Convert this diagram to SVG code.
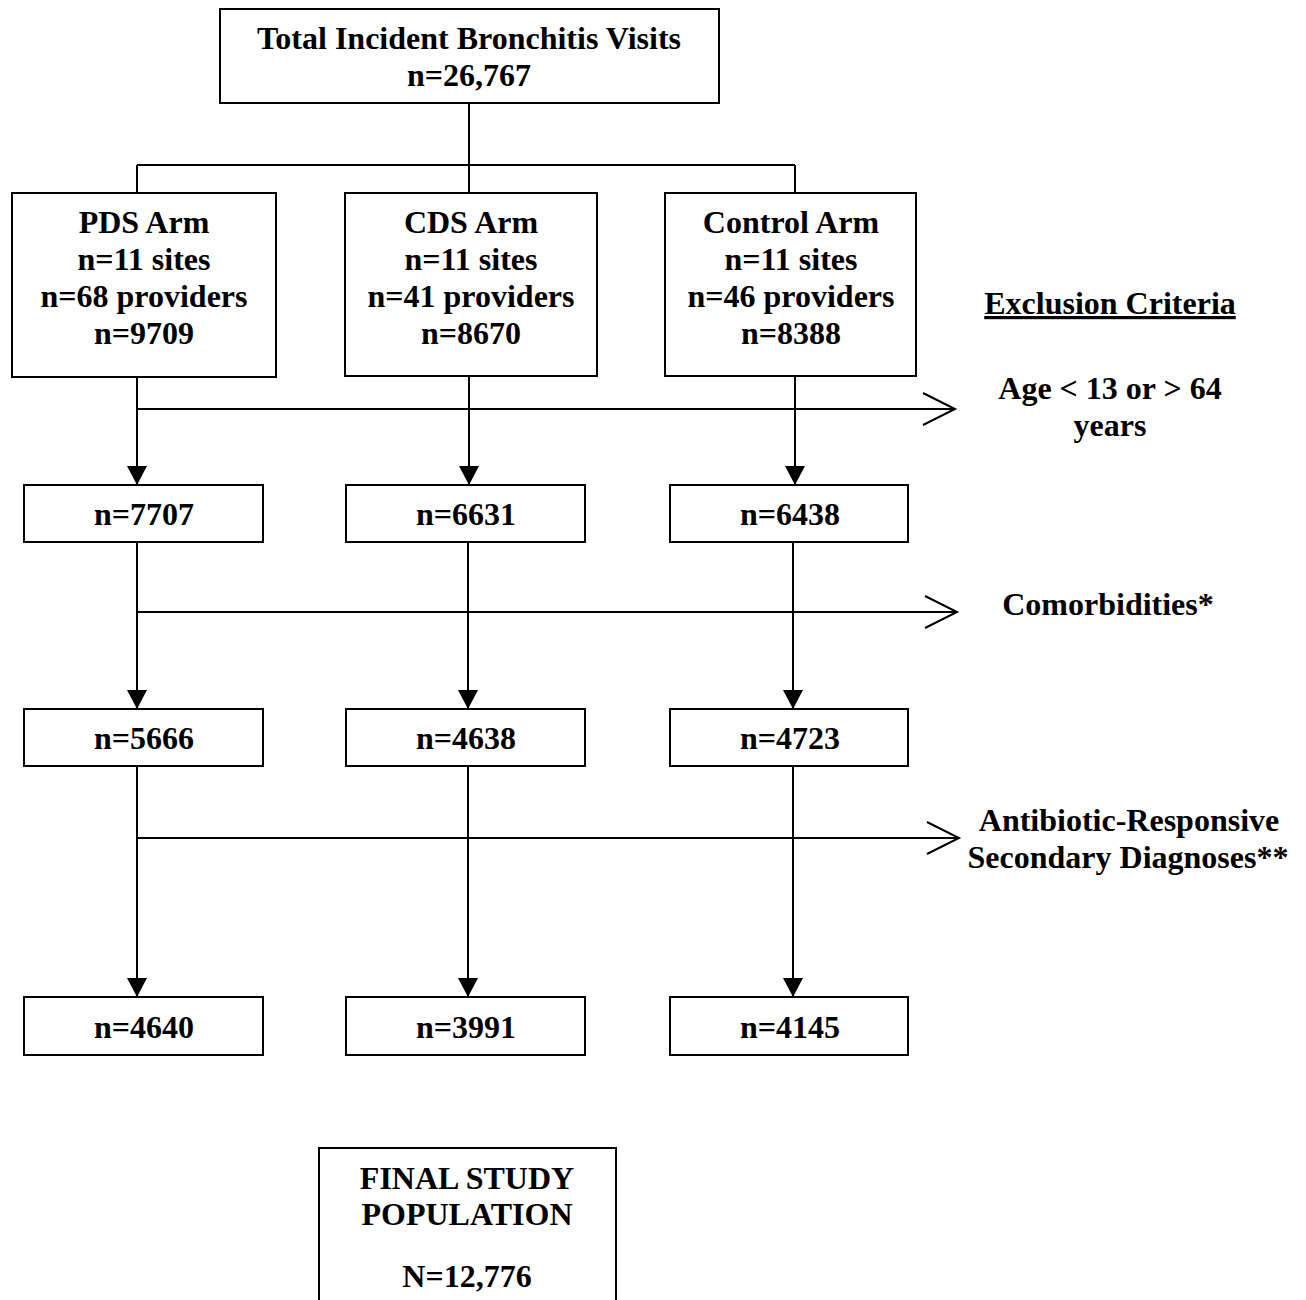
<svg xmlns="http://www.w3.org/2000/svg" width="1306" height="1300" viewBox="0 0 1306 1300">
<style>
.box{fill:#fff;stroke:#000;stroke-width:2}
.t{font-family:"Liberation Serif","Times New Roman",serif;font-weight:bold;font-size:32px;fill:#000;text-anchor:middle}
.ln{stroke:#000;stroke-width:2;fill:none}
</style>
<defs>
<marker id="tri" markerWidth="20" markerHeight="19" refX="10" refY="19" orient="0" markerUnits="userSpaceOnUse" viewBox="0 0 20 19">
<path d="M0,0 L20,0 L10,19 Z" fill="#000"/>
</marker>
</defs>
<rect width="1306" height="1300" fill="#fff"/>
<g id="connectors">
<path class="ln" d="M469,103 V165 M137,165 H795 M137,165 V193 M469,165 V193 M795,165 V193"/>
<path class="ln" d="M137,377 V485" marker-end="url(#tri)"/>
<path class="ln" d="M469,376 V485" marker-end="url(#tri)"/>
<path class="ln" d="M795,376 V485" marker-end="url(#tri)"/>
<path class="ln" d="M137,409 H955 M923,393 L955,409 L923,425"/>
<path class="ln" d="M137,542 V709" marker-end="url(#tri)"/>
<path class="ln" d="M468,542 V709" marker-end="url(#tri)"/>
<path class="ln" d="M793,542 V709" marker-end="url(#tri)"/>
<path class="ln" d="M137,612 H957 M925,596 L957,612 L925,628"/>
<path class="ln" d="M137,766 V997" marker-end="url(#tri)"/>
<path class="ln" d="M468,766 V997" marker-end="url(#tri)"/>
<path class="ln" d="M793,766 V997" marker-end="url(#tri)"/>
<path class="ln" d="M137,838 H959 M927,822 L959,838 L927,854"/>
</g>
<g id="top"><rect class="box" x="220" y="9" width="499" height="94"/>
<text class="t" x="469" y="49">Total Incident Bronchitis Visits</text>
<text class="t" x="469" y="86">n=26,767</text></g>
<g id="pds"><rect class="box" x="12" y="193" width="264" height="184"/>
<text class="t" x="144" y="233">PDS Arm</text>
<text class="t" x="144" y="270">n=11 sites</text>
<text class="t" x="144" y="307">n=68 providers</text>
<text class="t" x="144" y="344">n=9709</text></g>
<g id="cds"><rect class="box" x="345" y="193" width="252" height="183"/>
<text class="t" x="471" y="233">CDS Arm</text>
<text class="t" x="471" y="270">n=11 sites</text>
<text class="t" x="471" y="307">n=41 providers</text>
<text class="t" x="471" y="344">n=8670</text></g>
<g id="control"><rect class="box" x="665" y="193" width="251" height="183"/>
<text class="t" x="791" y="233">Control Arm</text>
<text class="t" x="791" y="270">n=11 sites</text>
<text class="t" x="791" y="307">n=46 providers</text>
<text class="t" x="791" y="344">n=8388</text></g>
<g id="pds2"><rect class="box" x="24" y="485" width="239" height="57"/><text class="t" x="144" y="525">n=7707</text></g>
<g id="cds2"><rect class="box" x="346" y="485" width="239" height="57"/><text class="t" x="466" y="525">n=6631</text></g>
<g id="ctl2"><rect class="box" x="670" y="485" width="238" height="57"/><text class="t" x="790" y="525">n=6438</text></g>
<g id="pds3"><rect class="box" x="24" y="709" width="239" height="57"/><text class="t" x="144" y="749">n=5666</text></g>
<g id="cds3"><rect class="box" x="346" y="709" width="239" height="57"/><text class="t" x="466" y="749">n=4638</text></g>
<g id="ctl3"><rect class="box" x="670" y="709" width="238" height="57"/><text class="t" x="790" y="749">n=4723</text></g>
<g id="pds4"><rect class="box" x="24" y="997" width="239" height="58"/><text class="t" x="144" y="1038">n=4640</text></g>
<g id="cds4"><rect class="box" x="346" y="997" width="239" height="58"/><text class="t" x="466" y="1038">n=3991</text></g>
<g id="ctl4"><rect class="box" x="670" y="997" width="238" height="58"/><text class="t" x="790" y="1038">n=4145</text></g>
<g id="excl">
<text class="t" x="1110" y="314" text-decoration="underline">Exclusion Criteria</text>
<text class="t" x="1110" y="399">Age &lt; 13 or &gt; 64</text>
<text class="t" x="1110" y="436">years</text>
</g>
<g id="comorb"><text class="t" x="1108" y="615">Comorbidities*</text></g>
<g id="abx">
<text class="t" x="1129" y="831">Antibiotic-Responsive</text>
<text class="t" x="1128" y="868">Secondary Diagnoses**</text>
</g>
<g id="final"><rect class="box" x="319" y="1148" width="297" height="170"/>
<text class="t" x="467" y="1189">FINAL STUDY</text>
<text class="t" x="467" y="1225">POPULATION</text>
<text class="t" x="467" y="1287">N=12,776</text></g>
</svg>
